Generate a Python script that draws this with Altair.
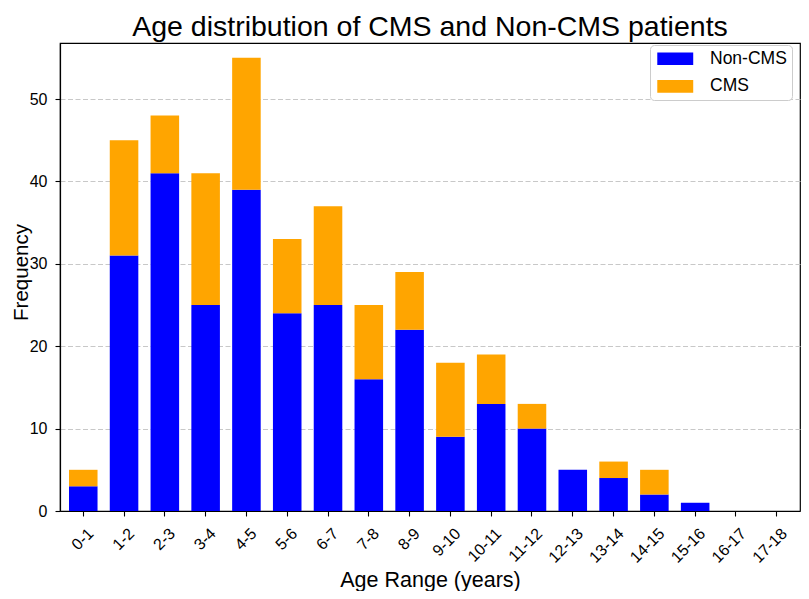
import altair as alt
import pandas as pd

age_ranges = ["0-1", "1-2", "2-3", "3-4", "4-5", "5-6", "6-7", "7-8", "8-9",
              "9-10", "10-11", "11-12", "12-13", "13-14", "14-15", "15-16",
              "16-17", "17-18"]
non_cms = [3, 31, 41, 25, 39, 24, 25, 16, 22, 9, 13, 10, 5, 4, 2, 1, 0, 0]
cms = [2, 14, 7, 16, 16, 9, 12, 9, 7, 9, 6, 3, 0, 2, 3, 0, 0, 0]
groups = ["Non-CMS", "CMS"]
colors = ["#0000ff", "#ffa500"]
y_ticks = [0, 10, 20, 30, 40, 50]

rows = []
for a, n, c in zip(age_ranges, non_cms, cms):
    rows.append({"age": a, "group": groups[0], "count": n, "ord": 0})
    rows.append({"age": a, "group": groups[1], "count": c, "ord": 1})
df = pd.DataFrame(rows)

FONT = "Liberation Sans"

chart = alt.Chart(df).mark_bar().encode(
    x=alt.X("age:N", sort=age_ranges,
            scale=alt.Scale(paddingInner=0.3, paddingOuter=0.22),
            axis=alt.Axis(title="Age Range (years)", labelAngle=315,
                          labelAlign="right", labelBaseline="top",
                          labelOffset=2, labelPadding=9,
                          titleX=370, titleY=75, titleBaseline="alphabetic",
                          titleAlign="center")),
    y=alt.Y("count:Q", stack="zero",
            scale=alt.Scale(domain=[0, 56.8], nice=False, zero=True),
            axis=alt.Axis(title="Frequency", values=y_ticks, labelPadding=8,
                          grid=True, gridDash=[5, 2.5], gridColor="#c8c8c8",
                          gridWidth=1, titleFontSize=20.5,
                          titleX=-33, titleY=229, titleAngle=270,
                          titleBaseline="alphabetic", titleAlign="center")),
    color=alt.Color("group:N",
                    scale=alt.Scale(domain=groups, range=colors),
                    legend=alt.Legend(title=None, orient="none",
                                      legendX=590, legendY=2,
                                      fillColor="white", strokeColor="#cccccc",
                                      cornerRadius=4, padding=5,
                                      symbolType="M-2.85,-1L2.85,-1L2.85,1L-2.85,1Z",
                                      symbolSize=159, symbolStrokeWidth=0,
                                      symbolOffset=11.5,
                                      labelFontSize=17.5, labelFont=FONT,
                                      labelColor="black", labelOffset=26,
                                      rowPadding=8.6)),
    order=alt.Order("ord:Q"),
).properties(
    width=740,
    height=468,
    autosize=alt.AutoSizeParams(type="none"),
    padding={"left": 52, "top": 35, "right": 1, "bottom": 80},
    title=alt.Title("Age distribution of CMS and Non-CMS patients",
                    fontSize=28.5, font=FONT, fontWeight="normal", color="black",
                    anchor="middle", offset=2),
).configure_view(
    stroke="black", strokeWidth=1.2
).configure_axis(
    labelFont=FONT, labelFontSize=16, labelColor="black",
    titleFont=FONT, titleFontSize=21.5, titleFontWeight="normal", titleColor="black",
    domainColor="black", domainWidth=1.2, tickColor="black", tickSize=5,
    tickWidth=1.1
).configure_axisX(grid=False)

chart.save("out.html", embed_options={"renderer": "svg", "actions": False})
